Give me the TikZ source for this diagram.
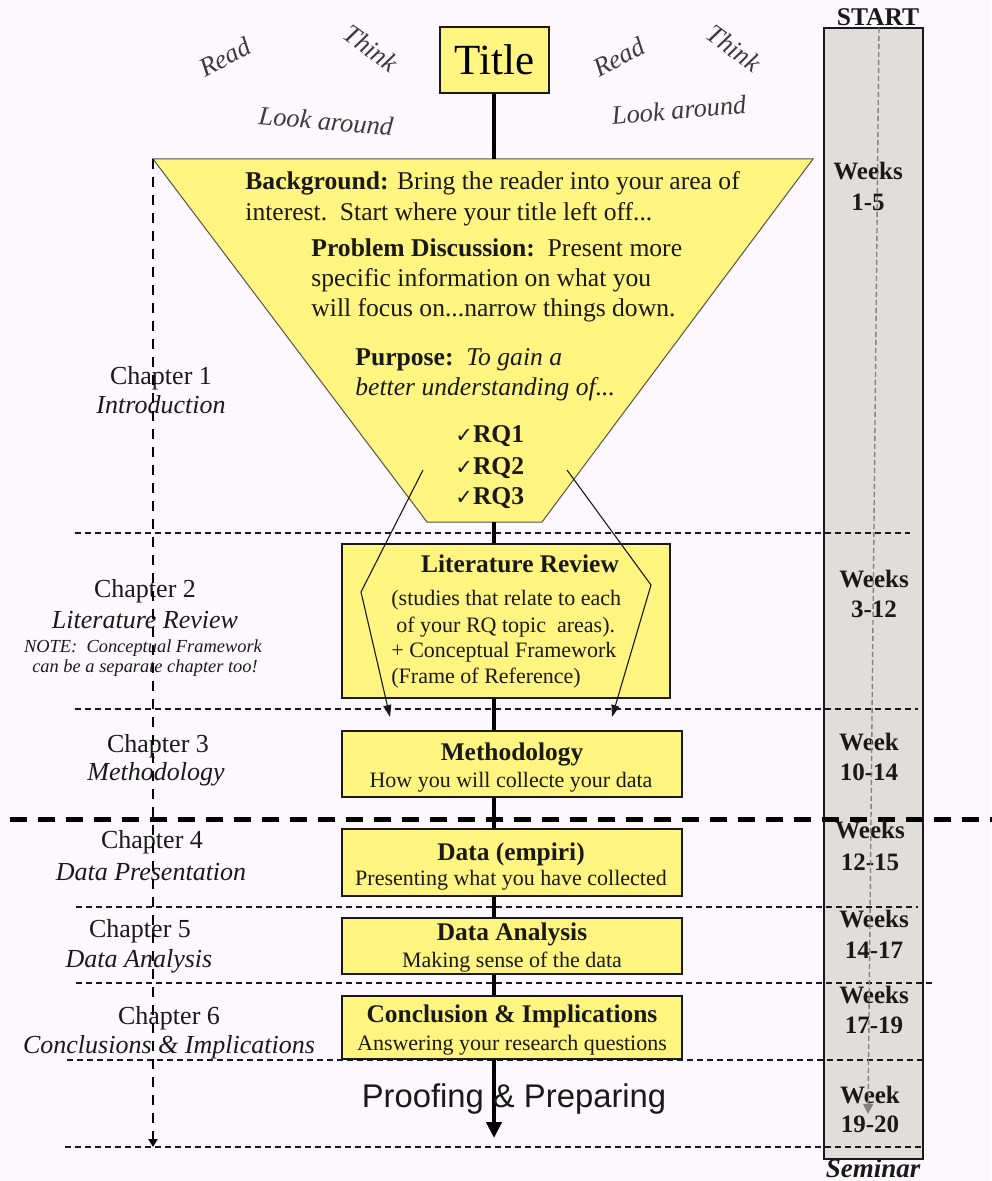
\documentclass[tikz,border=0pt]{standalone}
\usepackage{fontspec}
\setmainfont{Liberation Serif}
\newfontfamily\sansf{Liberation Sans}
\newfontfamily\symf{DejaVu Sans}
\usetikzlibrary{arrows.meta}
\definecolor{bgc}{RGB}{253,248,253}
\definecolor{yel}{RGB}{255,245,128}
\definecolor{colgray}{RGB}{224,222,218}
\definecolor{ink}{RGB}{25,25,25}
\newcommand{\fsz}[2]{\fontsize{#1}{#2}\selectfont}
\begin{document}
\begin{tikzpicture}[x=0.5pt,y=-0.5pt,
  box/.style={draw=ink, line width=0.8pt, fill=yel, inner sep=0pt},
  txt/.style={inner sep=0pt, anchor=base, text=ink},
  txtl/.style={inner sep=0pt, anchor=base west, text=ink},
  fun/.style={txtl, font=\fsz{12.8}{15}},
  chap/.style={txt, font=\fsz{13}{15}},
  note/.style={txt, font=\fsz{9.2}{10}\itshape},
  head/.style={txt, font=\fsz{12.7}{15}\bfseries},
  sub/.style={txt, font=\fsz{11}{13}},
  subl/.style={txtl, font=\fsz{11}{13}},
  wk/.style={txt, font=\fsz{12.5}{15}\bfseries},
  rt/.style={inner sep=0pt, text=ink!85, font=\fsz{13.2}{15}\itshape},
  sep/.style={draw=ink, line width=0.75pt, dash pattern=on 3pt off 2pt},
  bigsep/.style={draw=black, line width=2.5pt, dash pattern=on 8.5pt off 5.5pt},
  spine/.style={draw=black, line width=2pt},
  thinarrow/.style={draw=ink, line width=0.55pt, -{Triangle[length=6pt,width=4pt]}},
]
% background and bounding box
\fill[bgc] (0,0) rectangle (991,1181);
\useasboundingbox (0,0) rectangle (991,1181);

% gray timeline column
\node[draw=ink, fill=colgray, line width=0.8pt, minimum width=49.5pt, minimum height=565.5pt, inner sep=0pt] (col) at (873.5,593.5) {};
\node[txt, font=\fsz{12.75}{14}\bfseries] (start) at (878,26) {START};
\node[txt, font=\fsz{13.5}{15}\bfseries\itshape] (seminar) at (873,1177) {Seminar};

% separators
\draw[sep] (75,533) -- (910,533);
\draw[sep] (75,709) -- (918,709);
\draw[sep] (76,907) -- (918,907);
\draw[sep] (76,983) -- (935,983);
\draw[sep] (67,1060) -- (923,1060);
\draw[sep] (65,1147) -- (923,1147);
\draw[bigsep] (10,819) -- (995,819);

% funnel
\filldraw[fill=yel, draw=ink!75, line width=0.5pt] (153,159) -- (813,159) -- (542,522) -- (427,522) -- cycle;
\coordinate (funtop) at (494,159);
\coordinate (funbot) at (494,522);

% boxes
\node[box, minimum width=54.5pt, minimum height=33pt, font=\fsz{21.5}{24}] (title) at (494.5,60) {Title};
\node[box, minimum width=164pt, minimum height=77pt] (lit) at (506,621) {};
\node[box, minimum width=170pt, minimum height=33pt] (meth) at (512,764) {};
\node[box, minimum width=170pt, minimum height=33.5pt] (data) at (512,862.5) {};
\node[box, minimum width=170pt, minimum height=28pt] (ana) at (512,946) {};
\node[box, minimum width=170pt, minimum height=31.5pt] (conc) at (512,1027.5) {};
\coordinate (spineend) at (494,1138);

% spine
\draw[spine] (title.south -| funtop) -- (funtop);
\draw[spine] (funbot) -- (funbot |- lit.north);
\draw[spine] (funbot |- lit.south) -- (funbot |- meth.north);
\draw[spine] (funbot |- meth.south) -- (funbot |- data.north);
\draw[spine] (funbot |- data.south) -- (funbot |- ana.north);
\draw[spine] (funbot |- ana.south) -- (funbot |- conc.north);
\draw[spine, -{Triangle[length=8pt,width=7.5pt]}] (funbot |- conc.south) -- (spineend);

% read / think / look around
\node[rt, rotate=28] (rd1) at (225,57) {Read};
\node[rt, rotate=-36] (th1) at (371,48) {Think};
\node[rt, rotate=-5] (la1) at (326,121) {Look around};
\node[rt, rotate=28] (rd2) at (619,57) {Read};
\node[rt, rotate=-36] (th2) at (734,48) {Think};
\node[rt, rotate=5] (la2) at (679,110) {Look around};

% funnel text
\node[fun] (bg1) at (245,190) {\textbf{Background:} Bring the reader into your area of};
\node[fun] (bg2) at (245,221) {interest.\ \ Start where your title left off...};
\node[fun] (pd1) at (311,257) {\textbf{Problem Discussion:}\ \ Present more};
\node[fun] (pd2) at (311,287) {specific information on what you};
\node[fun] (pd3) at (311,317) {will focus on...narrow things down.};
\node[fun] (pu1) at (355,365) {\textbf{Purpose:}\ \ \textit{To gain a}};
\node[fun] (pu2) at (355,395) {\textit{better understanding of...}};
\node[fun] (rq1) at (455,443) {{\symf\fsz{10.5}{10}✓}\textbf{RQ1}};
\node[fun] (rq2) at (455,474) {{\symf\fsz{10.5}{10}✓}\textbf{RQ2}};
\node[fun] (rq3) at (455,504) {{\symf\fsz{10.5}{10}✓}\textbf{RQ3}};

% box text
\node[head] (lith) at (520,572) {Literature Review};
\node[subl] (lit1) at (391,605) {(studies that relate to each};
\node[subl] (lit2) at (396,632) {of your RQ topic\ \ areas).};
\node[subl] (lit3) at (391,657) {+ Conceptual Framework};
\node[subl] (lit4) at (391,683) {(Frame of Reference)};
\node[head] (methh) at (512,760) {Methodology};
\node[sub] (meths) at (511,787) {How you will collecte your data};
\node[head] (datah) at (511,860) {Data (empiri)};
\node[sub] (datas) at (511,885) {Presenting what you have collected};
\node[head] (anah) at (512,940) {Data Analysis};
\node[sub] (anas) at (512,967) {Making sense of the data};
\node[head] (conch) at (512,1022) {Conclusion \& Implications};
\node[sub] (concs) at (512,1050) {Answering your research questions};
\node[txt, font=\sansf\fsz{16.4}{18}] (proof) at (514,1107) {Proofing \& Preparing};

% chapter labels
\node[chap] (c1a) at (161,385) {Chapter 1};
\node[chap] (c1b) at (161,414) {\textit{Introduction}};
\node[chap] (c2a) at (145,597) {Chapter 2};
\node[chap] (c2b) at (145,628) {\textit{Literature Review}};
\node[note] (c2c) at (143,652) {NOTE:\ \ Conceptual Framework};
\node[note] (c2d) at (145,672) {can be a separate chapter too!};
\node[chap] (c3a) at (158,752) {Chapter 3};
\node[chap] (c3b) at (156,780) {\textit{Methodology}};
\node[chap] (c4a) at (152,848) {Chapter 4};
\node[chap] (c4b) at (151,880) {\textit{Data Presentation}};
\node[chap] (c5a) at (140,937) {Chapter 5};
\node[chap] (c5b) at (139,967) {\textit{Data Analysis}};
\node[chap] (c6a) at (169,1024) {Chapter 6};
\node[chap] (c6b) at (169,1053) {\textit{Conclusions \& Implications}};

% week labels
\node[wk] (w1a) at (868,180) {Weeks};
\node[wk] (w1b) at (868,211) {1-5};
\node[wk] (w2a) at (874,587) {Weeks};
\node[wk] (w2b) at (874,617) {3-12};
\node[wk] (w3a) at (869,750) {Week};
\node[wk] (w3b) at (869,780) {10-14};
\node[wk] (w4a) at (870,838) {Weeks};
\node[wk] (w4b) at (870,870) {12-15};
\node[wk] (w5a) at (874,927) {Weeks};
\node[wk] (w5b) at (874,958) {14-17};
\node[wk] (w6a) at (874,1003) {Weeks};
\node[wk] (w6b) at (874,1033) {17-19};
\node[wk] (w7a) at (870,1103) {Week};
\node[wk] (w7b) at (870,1132) {19-20};

% left time arrow
\coordinate (ltop) at (153,159);
\coordinate (lbot) at (153,1147);
\draw[draw=black, line width=1.4pt, dash pattern=on 5pt off 4pt, -{Triangle[length=4pt,width=4.5pt]}] (ltop) -- (lbot);

% column dotted arrow
\coordinate (ctop) at (879,28);
\coordinate (cbot) at (868,1114);
\draw[draw=ink!55, line width=0.7pt, dash pattern=on 2.5pt off 1.5pt, -{Triangle[length=5pt,width=5pt]}] (ctop) -- (cbot);

% crossing arrows from RQs
\coordinate (la) at (423,470);
\coordinate (lk) at (361,592);
\coordinate (le) at (390,717);
\coordinate (ra) at (567,470);
\coordinate (rk) at (651,585);
\coordinate (re) at (612,717);
\draw[thinarrow] (la) -- (lk) -- (le);
\draw[thinarrow] (ra) -- (rk) -- (re);
\end{tikzpicture}
\end{document}
